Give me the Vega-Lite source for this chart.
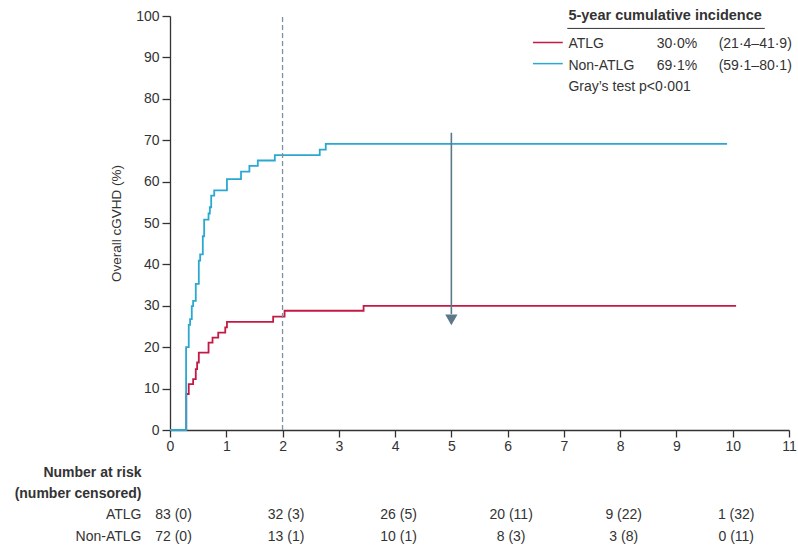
{
  "$schema": "https://vega.github.io/schema/vega-lite/v6.json",
  "width": 619,
  "height": 414,
  "autosize": {"type": "none"},
  "padding": {"left": 170, "top": 16, "right": 9, "bottom": 120},
  "background": "white",
  "config": {
    "view": {"stroke": null},
    "font": "Liberation Sans",
    "axis": {
      "grid": false, "domainColor": "#333333", "tickColor": "#333333", "domainWidth": 1.3, "tickWidth": 1.3,
      "labelFontSize": 14, "labelColor": "#333333", "labelFont": "Liberation Sans", "labelFlush": false,
      "titleFontSize": 13.5, "titleFontWeight": "normal", "titleColor": "#333333", "titleFont": "Liberation Sans"
    },
    "axisX": {"tickSize": 7, "labelPadding": 2},
    "axisY": {"tickSize": 8, "labelPadding": 3, "titlePadding": 12}
  },
  "datasets": {
    "curves": [
      {"group": "ATLG", "t": 0, "v": 0},
      {"group": "ATLG", "t": 0.29, "v": 8.7},
      {"group": "ATLG", "t": 0.333, "v": 11.1},
      {"group": "ATLG", "t": 0.411, "v": 12.3},
      {"group": "ATLG", "t": 0.458, "v": 14.7},
      {"group": "ATLG", "t": 0.482, "v": 16.3},
      {"group": "ATLG", "t": 0.512, "v": 18.7},
      {"group": "ATLG", "t": 0.685, "v": 21.1},
      {"group": "ATLG", "t": 0.756, "v": 22.3},
      {"group": "ATLG", "t": 0.857, "v": 23.5},
      {"group": "ATLG", "t": 0.982, "v": 24.8},
      {"group": "ATLG", "t": 1.012, "v": 26.1},
      {"group": "ATLG", "t": 1.833, "v": 27.4},
      {"group": "ATLG", "t": 2.036, "v": 28.8},
      {"group": "ATLG", "t": 3.44, "v": 30.0},
      {"group": "ATLG", "t": 10.06, "v": 30.0},
      {"group": "Non-ATLG", "t": 0, "v": 0},
      {"group": "Non-ATLG", "t": 0.286, "v": 20.0},
      {"group": "Non-ATLG", "t": 0.333, "v": 25.4},
      {"group": "Non-ATLG", "t": 0.357, "v": 26.8},
      {"group": "Non-ATLG", "t": 0.387, "v": 29.9},
      {"group": "Non-ATLG", "t": 0.411, "v": 31.2},
      {"group": "Non-ATLG", "t": 0.458, "v": 35.3},
      {"group": "Non-ATLG", "t": 0.512, "v": 40.9},
      {"group": "Non-ATLG", "t": 0.536, "v": 42.4},
      {"group": "Non-ATLG", "t": 0.583, "v": 46.8},
      {"group": "Non-ATLG", "t": 0.607, "v": 50.8},
      {"group": "Non-ATLG", "t": 0.685, "v": 52.3},
      {"group": "Non-ATLG", "t": 0.708, "v": 53.8},
      {"group": "Non-ATLG", "t": 0.732, "v": 56.6},
      {"group": "Non-ATLG", "t": 0.786, "v": 57.9},
      {"group": "Non-ATLG", "t": 1.012, "v": 60.6},
      {"group": "Non-ATLG", "t": 1.262, "v": 62.4},
      {"group": "Non-ATLG", "t": 1.411, "v": 63.8},
      {"group": "Non-ATLG", "t": 1.56, "v": 65.1},
      {"group": "Non-ATLG", "t": 1.863, "v": 66.4},
      {"group": "Non-ATLG", "t": 2.661, "v": 67.7},
      {"group": "Non-ATLG", "t": 2.768, "v": 69.1},
      {"group": "Non-ATLG", "t": 9.9, "v": 69.1}
    ],
    "risk": [
      {"group": "ATLG", "t": 0, "label": "83 (0)"},
      {"group": "ATLG", "t": 2, "label": "32 (3)"},
      {"group": "ATLG", "t": 4, "label": "26 (5)"},
      {"group": "ATLG", "t": 6, "label": "20 (11)"},
      {"group": "ATLG", "t": 8, "label": "9 (22)"},
      {"group": "ATLG", "t": 10, "label": "1 (32)"},
      {"group": "Non-ATLG", "t": 0, "label": "72 (0)"},
      {"group": "Non-ATLG", "t": 2, "label": "13 (1)"},
      {"group": "Non-ATLG", "t": 4, "label": "10 (1)"},
      {"group": "Non-ATLG", "t": 6, "label": "8 (3)"},
      {"group": "Non-ATLG", "t": 8, "label": "3 (8)"},
      {"group": "Non-ATLG", "t": 10, "label": "0 (11)"}
    ]
  },
  "layer": [
    {
      "data": {"name": "curves"},
      "transform": [{"filter": "datum.group === 'ATLG'"}],
      "mark": {"type": "line", "interpolate": "step-after", "strokeWidth": 1.8, "color": "#c21a44"},
      "encoding": {
        "x": {"field": "t", "type": "quantitative", "title": null,
              "scale": {"domain": [0, 11], "nice": false, "zero": false},
              "axis": {"values": [0, 1, 2, 3, 4, 5, 6, 7, 8, 9, 10, 11], "format": "d"}},
        "y": {"field": "v", "type": "quantitative", "title": "Overall cGVHD (%)",
              "scale": {"domain": [0, 100], "nice": false},
              "axis": {"values": [0, 10, 20, 30, 40, 50, 60, 70, 80, 90, 100], "format": "d"}}
      }
    },
    {
      "data": {"name": "curves"},
      "transform": [{"filter": "datum.group === 'Non-ATLG'"}],
      "mark": {"type": "line", "interpolate": "step-after", "strokeWidth": 1.8, "color": "#2aa8d2"},
      "encoding": {
        "x": {"field": "t", "type": "quantitative", "title": null},
        "y": {"field": "v", "type": "quantitative", "title": "Overall cGVHD (%)"}
      }
    },
    {
      "data": {"values": [{}]},
      "mark": {"type": "rule", "color": "#7d91a0", "strokeWidth": 1.3, "strokeDash": [5, 3]},
      "encoding": {
        "x": {"datum": 2, "type": "quantitative"},
        "y": {"datum": 0, "type": "quantitative"},
        "y2": {"datum": 100}
      }
    },
    {
      "data": {"values": [{}]},
      "mark": {"type": "rule", "color": "#5b7888", "strokeWidth": 1.6},
      "encoding": {
        "x": {"datum": 5, "type": "quantitative"},
        "y": {"datum": 71.8, "type": "quantitative"},
        "y2": {"datum": 28}
      }
    },
    {
      "data": {"values": [{}]},
      "mark": {"type": "point", "shape": "triangle-down", "filled": true, "opacity": 1, "color": "#5b7888", "size": 150},
      "encoding": {
        "x": {"datum": 5, "type": "quantitative"},
        "y": {"datum": 26.6, "type": "quantitative"}
      }
    },
    {
      "data": {"values": [{}]},
      "mark": {"type": "text", "text": "5-year cumulative incidence", "align": "left", "baseline": "middle", "fontSize": 14.5, "fontWeight": "bold", "color": "#333333"},
      "encoding": {
        "x": {"datum": 7.08, "type": "quantitative"},
        "y": {"datum": 100, "type": "quantitative"}
      }
    },
    {
      "data": {"values": [{}]},
      "mark": {"type": "rule", "color": "#333333", "strokeWidth": 1},
      "encoding": {
        "x": {"datum": 7.06, "type": "quantitative"},
        "x2": {"datum": 10.57},
        "y": {"datum": 97.0, "type": "quantitative"}
      }
    },
    {
      "data": {"values": [{}]},
      "mark": {"type": "rule", "color": "#c21a44", "strokeWidth": 1.5},
      "encoding": {
        "x": {"datum": 6.45, "type": "quantitative"},
        "x2": {"datum": 6.98},
        "y": {"datum": 93.6, "type": "quantitative"}
      }
    },
    {
      "data": {"values": [{}]},
      "mark": {"type": "rule", "color": "#2aa8d2", "strokeWidth": 1.5},
      "encoding": {
        "x": {"datum": 6.45, "type": "quantitative"},
        "x2": {"datum": 6.98},
        "y": {"datum": 88.5, "type": "quantitative"}
      }
    },
    {
      "data": {"values": [{}]},
      "mark": {"type": "text", "text": "ATLG", "align": "left", "baseline": "middle", "fontSize": 14, "color": "#333333"},
      "encoding": {"x": {"datum": 7.08, "type": "quantitative"}, "y": {"datum": 93.2, "type": "quantitative"}}
    },
    {
      "data": {"values": [{}]},
      "mark": {"type": "text", "text": "30·0%", "align": "left", "baseline": "middle", "fontSize": 14, "color": "#333333"},
      "encoding": {"x": {"datum": 8.65, "type": "quantitative"}, "y": {"datum": 93.2, "type": "quantitative"}}
    },
    {
      "data": {"values": [{}]},
      "mark": {"type": "text", "text": "(21·4–41·9)", "align": "left", "baseline": "middle", "fontSize": 14, "color": "#333333"},
      "encoding": {"x": {"datum": 9.75, "type": "quantitative"}, "y": {"datum": 93.2, "type": "quantitative"}}
    },
    {
      "data": {"values": [{}]},
      "mark": {"type": "text", "text": "Non-ATLG", "align": "left", "baseline": "middle", "fontSize": 14, "color": "#333333"},
      "encoding": {"x": {"datum": 7.08, "type": "quantitative"}, "y": {"datum": 88.0, "type": "quantitative"}}
    },
    {
      "data": {"values": [{}]},
      "mark": {"type": "text", "text": "69·1%", "align": "left", "baseline": "middle", "fontSize": 14, "color": "#333333"},
      "encoding": {"x": {"datum": 8.65, "type": "quantitative"}, "y": {"datum": 88.0, "type": "quantitative"}}
    },
    {
      "data": {"values": [{}]},
      "mark": {"type": "text", "text": "(59·1–80·1)", "align": "left", "baseline": "middle", "fontSize": 14, "color": "#333333"},
      "encoding": {"x": {"datum": 9.75, "type": "quantitative"}, "y": {"datum": 88.0, "type": "quantitative"}}
    },
    {
      "data": {"values": [{}]},
      "mark": {"type": "text", "text": "Gray’s test p<0·001", "align": "left", "baseline": "middle", "fontSize": 14, "color": "#333333"},
      "encoding": {"x": {"datum": 7.08, "type": "quantitative"}, "y": {"datum": 82.9, "type": "quantitative"}}
    },
    {
      "data": {"values": [{}]},
      "mark": {"type": "text", "text": "Number at risk", "align": "right", "baseline": "middle", "fontSize": 14, "fontWeight": "bold", "color": "#333333"},
      "encoding": {"x": {"datum": -0.507, "type": "quantitative"}, "y": {"datum": -10.46, "type": "quantitative"}}
    },
    {
      "data": {"values": [{}]},
      "mark": {"type": "text", "text": "(number censored)", "align": "right", "baseline": "middle", "fontSize": 14, "fontWeight": "bold", "color": "#333333"},
      "encoding": {"x": {"datum": -0.507, "type": "quantitative"}, "y": {"datum": -15.46, "type": "quantitative"}}
    },
    {
      "data": {"values": [{}]},
      "mark": {"type": "text", "text": "ATLG", "align": "right", "baseline": "middle", "fontSize": 14, "color": "#333333"},
      "encoding": {"x": {"datum": -0.507, "type": "quantitative"}, "y": {"datum": -20.53, "type": "quantitative"}}
    },
    {
      "data": {"values": [{}]},
      "mark": {"type": "text", "text": "Non-ATLG", "align": "right", "baseline": "middle", "fontSize": 14, "color": "#333333"},
      "encoding": {"x": {"datum": -0.507, "type": "quantitative"}, "y": {"datum": -25.77, "type": "quantitative"}}
    },
    {
      "data": {"name": "risk"},
      "transform": [{"filter": "datum.group === 'ATLG'"}],
      "mark": {"type": "text", "align": "center", "baseline": "middle", "fontSize": 14, "color": "#333333", "dx": 3.5},
      "encoding": {
        "x": {"field": "t", "type": "quantitative", "title": null},
        "y": {"datum": -20.53, "type": "quantitative"},
        "text": {"field": "label"}
      }
    },
    {
      "data": {"name": "risk"},
      "transform": [{"filter": "datum.group === 'Non-ATLG'"}],
      "mark": {"type": "text", "align": "center", "baseline": "middle", "fontSize": 14, "color": "#333333", "dx": 3.5},
      "encoding": {
        "x": {"field": "t", "type": "quantitative", "title": null},
        "y": {"datum": -25.77, "type": "quantitative"},
        "text": {"field": "label"}
      }
    }
  ]
}
